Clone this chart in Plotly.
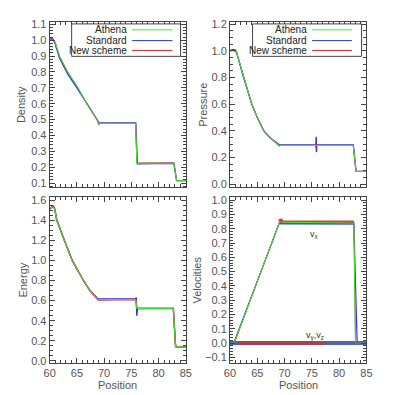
import plotly.graph_objects as go
from plotly.subplots import make_subplots

# ---- values (positions 60..85) ----
# density
x_rho_a = [60, 60.5, 61.0, 61.8, 63.3, 65.2, 66.8, 68.7, 69.1, 75.8, 76.0, 82.8, 83.3, 85]
rho_a = [1.0, 1.0, 0.99, 0.9, 0.8, 0.7, 0.6, 0.5, 0.476, 0.476, 0.225, 0.225, 0.115, 0.115]
x_rho_s = [60, 60.3, 60.7, 61.0, 61.8, 63.3, 65.2, 66.8, 68.7, 69.1, 75.8, 75.95, 76.1, 82.8, 83.3, 85]
rho_s = [1.0, 1.01, 1.0, 0.98, 0.89, 0.79, 0.69, 0.6, 0.5, 0.478, 0.478, 0.26, 0.222, 0.225, 0.115, 0.115]
x_rho_n = [60, 60.6, 61.0, 61.8, 63.3, 65.2, 66.8, 68.7, 69.0, 69.3, 75.8, 76.0, 82.8, 83.3, 85]
rho_n = [1.0, 1.01, 0.99, 0.9, 0.8, 0.7, 0.6, 0.5, 0.468, 0.476, 0.476, 0.226, 0.227, 0.115, 0.115]

# pressure
x_p_a = [60, 60.5, 61.2, 62.5, 64.0, 65.0, 66.2, 67.3, 69.1, 82.6, 83.1, 85]
p_a = [1.0, 1.0, 0.99, 0.8, 0.6, 0.5, 0.4, 0.35, 0.29, 0.29, 0.095, 0.095]
x_p_s = [60, 60.4, 60.9, 61.2, 62.5, 64.0, 65.0, 66.2, 67.3, 69.1, 75.75, 75.8, 75.85, 75.9, 82.6, 83.1, 85]
p_s = [1.0, 1.01, 1.01, 0.99, 0.8, 0.6, 0.5, 0.4, 0.35, 0.293, 0.293, 0.355, 0.24, 0.293, 0.293, 0.095, 0.095]
x_p_n = [60, 60.7, 61.2, 62.5, 64.0, 65.0, 66.2, 67.3, 69.0, 69.3, 75.7, 75.75, 75.8, 75.9, 82.6, 83.1, 85]
p_n = [1.0, 1.01, 0.99, 0.8, 0.6, 0.5, 0.4, 0.35, 0.285, 0.29, 0.29, 0.27, 0.305, 0.29, 0.29, 0.095, 0.095]

# energy
x_e_a = [60, 60.5, 60.9, 61.3, 62.7, 64.15, 66.2, 67.4, 68.9, 75.8, 76.0, 82.7, 83.1, 85]
e_a = [1.52, 1.53, 1.52, 1.4, 1.2, 1.0, 0.8, 0.7, 0.61, 0.61, 0.52, 0.52, 0.14, 0.14]
x_e_s = [60, 60.3, 60.6, 60.9, 61.3, 62.7, 64.15, 66.2, 67.4, 68.9, 75.8, 75.9, 76.0, 76.1, 82.7, 83.1, 83.3, 85]
e_s = [1.51, 1.53, 1.54, 1.52, 1.4, 1.2, 1.0, 0.8, 0.7, 0.615, 0.615, 0.63, 0.45, 0.52, 0.52, 0.16, 0.14, 0.14]
x_e_n = [60, 60.7, 61.0, 61.3, 62.7, 64.15, 66.2, 67.4, 68.9, 75.8, 76.0, 82.7, 83.1, 85]
e_n = [1.52, 1.54, 1.5, 1.41, 1.2, 1.0, 0.8, 0.7, 0.605, 0.61, 0.525, 0.525, 0.14, 0.14]

# velocities
x_vx_a = [60, 60.8, 69.1, 69.4, 82.7, 83.0, 85]
vx_a = [0.0, 0.0, 0.85, 0.845, 0.84, 0.0, 0.0]
x_vx_s = [60, 60.7, 69.1, 69.4, 82.7, 83.1, 83.3, 85]
vx_s = [0.0, 0.0, 0.845, 0.84, 0.838, 0.12, 0.0, 0.0]
x_vx_n = [60, 60.8, 69.1, 69.3, 69.6, 82.7, 83.0, 85]
vx_n = [0.0, 0.0, 0.85, 0.865, 0.845, 0.845, 0.0, 0.0]
x_vyz_s = [60, 68, 74, 80, 83, 85]
vyz_s = [0.0, 0.002, -0.002, 0.0, 0.005, 0.0]
x_vyz_n = [61.5, 66, 72, 77.5]
vyz_n = [0.0, 0.002, 0.0, 0.0]

green, blue, red = "#33ee33", "#2233ee", "#ee2222"
grey = "#555555"
font = "Liberation Sans"

fig = make_subplots(rows=2, cols=2)

def add(row, col, x, y, color, width=1.0, opacity=1.0):
    fig.add_trace(go.Scatter(x=x, y=y, mode="lines", line=dict(color=color, width=width),
                             opacity=opacity, showlegend=False, hoverinfo="skip"), row=row, col=col)

add(1, 1, x_rho_s, rho_s, blue, 1.4)
add(1, 1, x_rho_n, rho_n, red)
add(1, 1, x_rho_a, rho_a, green)
add(1, 2, x_p_s, p_s, blue, 1.4)
add(1, 2, x_p_n, p_n, red)
add(1, 2, x_p_a, p_a, green)
add(2, 1, x_e_s, e_s, blue, 1.4)
add(2, 1, x_e_n, e_n, red, 1.4)
add(2, 1, x_e_a, e_a, green)

# v_y, v_z noise bands
add(2, 2, x_vyz_s, vyz_s, blue, 4, 0.8)
add(2, 2, x_vyz_n, vyz_n, red, 3.5, 0.8)
# v_x: thin full profiles, thick noisy plateau on top
add(2, 2, x_vx_s, vx_s, blue, 1.2)
add(2, 2, x_vx_s[2:5], vx_s[2:5], blue, 3, 0.85)
add(2, 2, x_vx_n, vx_n, red, 1)
add(2, 2, x_vx_n[2:6], vx_n[2:6], red, 3.5, 0.85)
add(2, 2, x_vx_a, vx_a, green)
add(2, 2, [60, 85], [0, 0], "#557722", 1)

W = 395.0
xl = [45 / W, 185.5 / W]
xr = [231 / W, 371.7 / W]
yt = [1 - 187.7 / W, 1 - 19 / W]
yb = [1 - 366 / W, 1 - 197.7 / W]

axis_common = dict(showline=True, linecolor="#444444", linewidth=1, mirror="allticks",
                   ticks="inside", ticklen=5, tickcolor="#444444", showgrid=False, zeroline=False,
                   tickfont=dict(family=font, size=11, color=grey))

xa = dict(axis_common, range=[60, 85], dtick=5, tick0=60,
          minor=dict(dtick=1, ticklen=3, ticks="inside", tickcolor="#444444"))
fig.update_layout(
    xaxis=dict(xa, domain=xl, showticklabels=False),
    xaxis2=dict(xa, domain=xr, showticklabels=False),
    xaxis3=dict(xa, domain=xl),
    xaxis4=dict(xa, domain=xr),
    yaxis=dict(axis_common, domain=yt, range=[0.0728, 1.1167], dtick=0.1, tick0=0, tickformat=".1f",
               minor=dict(dtick=0.02, ticklen=3, ticks="inside", tickcolor="#444444")),
    yaxis2=dict(axis_common, domain=yt, range=[-0.025, 1.22], dtick=0.2, tick0=0, tickformat=".1f",
                minor=dict(dtick=0.05, ticklen=3, ticks="inside", tickcolor="#444444")),
    yaxis3=dict(axis_common, domain=yb, range=[-0.0166, 1.629], dtick=0.2, tick0=0, tickformat=".1f",
                minor=dict(dtick=0.05, ticklen=3, ticks="inside", tickcolor="#444444")),
    yaxis4=dict(axis_common, domain=yb, range=[-0.1364, 1.0206], dtick=0.1, tick0=0, tickformat=".1f",
                minor=dict(dtick=0.02, ticklen=3, ticks="inside", tickcolor="#444444")),
)

# legends drawn IDL-style: label on the left, sample line on the right
legend_names = ["Athena", "Standard", "New scheme"]
legend_colors = [green, blue, red]
legend_y = [0.9508, 0.8856, 0.8263]
for xr_, yr_, box, line_x, text_x in [("x domain", "y domain", (0.1616, 0.961), (0.605, 0.9018), 0.575),
                                      ("x2 domain", "y2 domain", (0.1656, 0.9645), (0.602, 0.8934), 0.572)]:
    fig.add_shape(type="rect", xref=xr_, yref=yr_, x0=box[0], x1=box[1], y0=0.7907, y1=0.9864,
                  line=dict(color="#444444", width=1), fillcolor="white", layer="above")
    for name, col, yy in zip(legend_names, legend_colors, legend_y):
        fig.add_shape(type="line", xref=xr_, yref=yr_, x0=line_x[0], x1=line_x[1], y0=yy, y1=yy,
                      line=dict(color=col, width=1), layer="above")
        fig.add_annotation(xref=xr_, yref=yr_, x=text_x, y=yy, text=name, showarrow=False,
                           xanchor="right", yanchor="middle", borderpad=0,
                           font=dict(family=font, size=10, color="#222222"))

def label(x, y, text, angle=0):
    fig.add_annotation(xref="paper", yref="paper", x=x, y=y, text=text, showarrow=False,
                       textangle=angle, xanchor="center", yanchor="middle",
                       font=dict(family=font, size=11, color=grey))

label(15 / W, 1 - 103.4 / W, "Density", -90)
label(202.3 / W, 1 - 103.4 / W, "Pressure", -90)
label(17.3 / W, 1 - 281.8 / W, "Energy", -90)
label(196.7 / W, 1 - 281.8 / W, "Velocities", -90)
label(115.25 / W, 1 - 389 / W, "Position")
label(301.35 / W, 1 - 389 / W, "Position")

fig.add_annotation(xref="x4", yref="y4", x=75.5, y=0.76, text="v<sub>x</sub>", showarrow=False,
                   font=dict(family=font, size=9, color="#333333"))
fig.add_annotation(xref="x4", yref="y4", x=75.5, y=0.05, text="v<sub>y</sub>,v<sub>z</sub>",
                   showarrow=False, font=dict(family=font, size=9, color="#333333"))

fig.update_layout(width=395, height=395, margin=dict(l=0, r=0, t=0, b=0),
                  paper_bgcolor="white", plot_bgcolor="white", showlegend=False)

# drop the page's default body margin so the figure sits at the window's corner
fig.write_html("out.html", config={"displayModeBar": False},
               post_script="document.body.style.margin='0px';")
